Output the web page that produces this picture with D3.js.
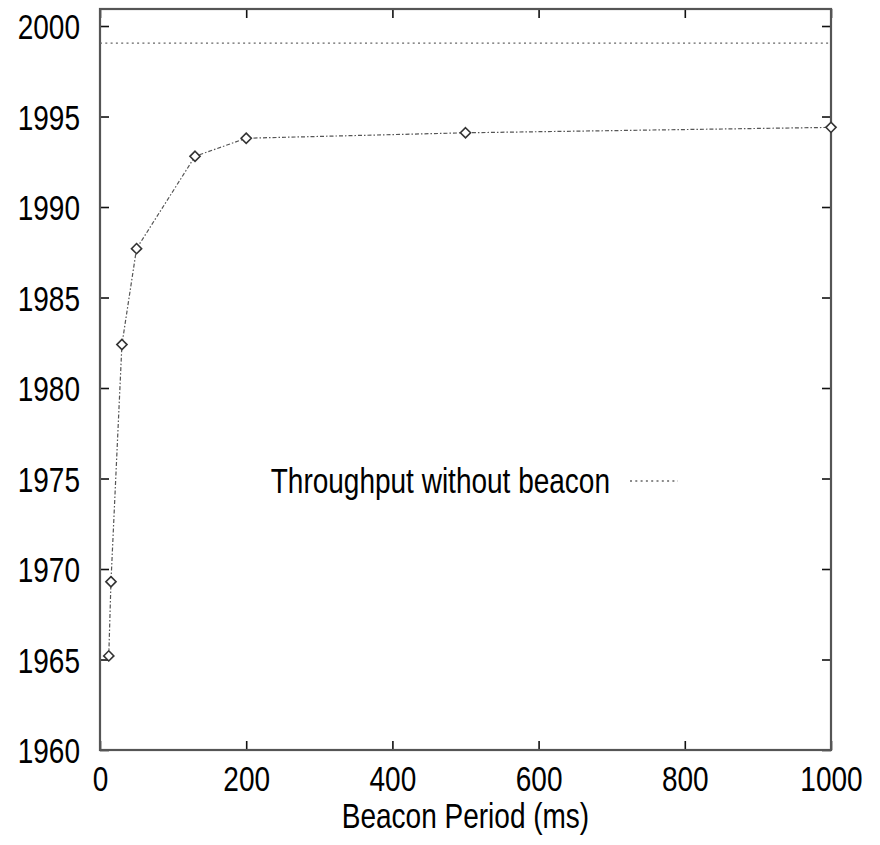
<!DOCTYPE html>
<html>
<head>
<meta charset="utf-8">
<script src="https://cdn.jsdelivr.net/npm/d3@7"></script>
<style>
  body { margin: 0; background: #fff; }
  text { font-family: "Liberation Sans", Arial, Helvetica, sans-serif; fill: #000; }
</style>
</head>
<body>
<svg width="880" height="845"></svg>
<script>
// data
var periods = [12, 15, 30, 50, 130, 200, 500, 1000];
var throughput = [1965.2, 1969.3, 1982.4, 1987.7, 1992.8, 1993.8, 1994.1, 1994.4];
var noBeacon = 1999.05;
var xTicks = [0, 200, 400, 600, 800, 1000];
var yTicks = [1960, 1965, 1970, 1975, 1980, 1985, 1990, 1995, 2000];

var svg = d3.select("svg"),
    plotL = 100, plotR = 831, plotT = 9, plotB = 750,
    stretch = "scale(1,1.25)";

var x = d3.scaleLinear().domain([0, 1000]).range([plotL, plotR]);
var y = d3.scaleLinear().domain([1960, 2000.94]).range([plotB, plotT]);
var fmt = d3.format("d");

var pts = periods.map(function(p, i) { return {x: p, y: throughput[i]}; });

// axes, ticks pointing inward on all four sides
var gLeft = svg.append("g")
	.attr("transform", "translate(" + plotL + ",0)")
	.call(d3.axisLeft(y).tickValues(yTicks).tickFormat(fmt).tickSizeInner(-9).tickSizeOuter(0).tickPadding(20));
gLeft.selectAll("text")
	.attr("font-size", 28)
	.attr("dy", "0.36em")
	.attr("transform", stretch);

svg.append("g")
	.attr("transform", "translate(" + plotR + ",0)")
	.call(d3.axisRight(y).tickValues(yTicks).tickSizeInner(-9).tickSizeOuter(0).tickFormat(""));

var gBottom = svg.append("g")
	.attr("transform", "translate(0," + plotB + ")")
	.call(d3.axisBottom(x).tickValues(xTicks).tickFormat(fmt).tickSizeInner(-9).tickSizeOuter(0));
gBottom.selectAll("text")
	.attr("font-size", 28)
	.attr("y", 0)
	.attr("dy", "0.36em")
	.attr("transform", "translate(0,28) " + stretch);

svg.append("g")
	.attr("transform", "translate(0," + plotT + ")")
	.call(d3.axisTop(x).tickValues(xTicks).tickSizeInner(-9).tickSizeOuter(0).tickFormat(""));

svg.selectAll(".domain").remove();
svg.selectAll(".tick line").attr("stroke", "#111").attr("stroke-width", 1.6);

// frame
svg.append("rect")
	.attr("x", plotL).attr("y", plotT)
	.attr("width", plotR - plotL).attr("height", plotB - plotT)
	.attr("fill", "none")
	.attr("stroke", "#555")
	.attr("stroke-width", 2.2);

// throughput without beacon
svg.append("line")
	.attr("x1", x(0)).attr("x2", x(1000))
	.attr("y1", y(noBeacon)).attr("y2", y(noBeacon))
	.attr("stroke", "#666")
	.attr("stroke-width", 1.3)
	.attr("stroke-dasharray", "2,3.3");

// beacon series
var line = d3.line()
	.x(function(d) { return x(d.x); })
	.y(function(d) { return y(d.y); });

svg.append("path")
	.datum(pts)
	.attr("d", line)
	.attr("fill", "none")
	.attr("stroke", "#555")
	.attr("stroke-width", 1.2)
	.attr("stroke-dasharray", "4,2,1.5,2");

svg.append("g")
	.selectAll("path")
	.data(pts)
	.enter().append("path")
	.attr("transform", function(d) { return "translate(" + x(d.x) + "," + y(d.y) + ")"; })
	.attr("d", d3.symbol(d3.symbolDiamond2, 66))
	.attr("fill", "#fff")
	.attr("stroke", "#333")
	.attr("stroke-width", 1.6);

// legend
svg.append("text")
	.attr("font-size", 28)
	.attr("text-anchor", "end")
	.attr("dy", "0.36em")
	.attr("transform", "translate(610,480) " + stretch)
	.text("Throughput without beacon");

svg.append("line")
	.attr("x1", 630).attr("x2", 678)
	.attr("y1", 481).attr("y2", 481)
	.attr("stroke", "#666")
	.attr("stroke-width", 1.3)
	.attr("stroke-dasharray", "2,3.3");

// axis title
svg.append("text")
	.attr("font-size", 28)
	.attr("text-anchor", "middle")
	.attr("dy", "0.36em")
	.attr("transform", "translate(" + (plotL + plotR) / 2 + ",815) " + stretch)
	.text("Beacon Period (ms)");
</script>
</body>
</html>
